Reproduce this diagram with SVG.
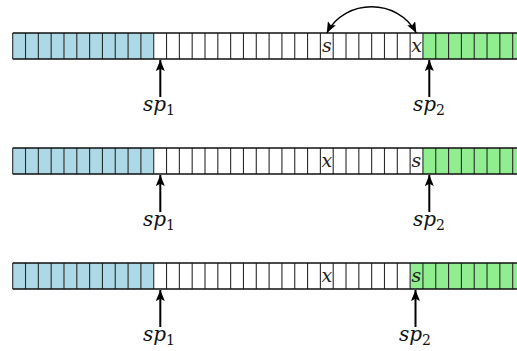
<svg xmlns="http://www.w3.org/2000/svg" xmlns:xlink="http://www.w3.org/1999/xlink" width="517" height="351" viewBox="0 0 517 351">
<style>
.blue{fill:#add8e6}
.white{fill:#ffffff}
.green{fill:#90ee90}
.div{fill:none;stroke:#2a2a2a;stroke-width:1.1}
.edge{fill:none;stroke:#111;stroke-width:1.6}
.cell{font-family:"DejaVu Serif","Liberation Serif",serif;font-style:italic;font-size:19px;fill:#222;text-anchor:middle}
.lbl{font-family:"DejaVu Serif","Liberation Serif",serif;font-style:italic;font-size:20px;fill:#111;text-anchor:middle}
.sub{font-style:normal;font-size:14px}
.ptr{fill:none;stroke:#000;stroke-width:2;marker-end:url(#head)}
.swap{fill:none;stroke:#000;stroke-width:1.4;marker-start:url(#head2);marker-end:url(#head2)}
</style>
<defs>
<marker id="head" viewBox="0 0 11 9" refX="11" refY="4.5" markerWidth="11" markerHeight="9" markerUnits="userSpaceOnUse" orient="auto">
<path d="M0,0 L11,4.5 L0,9 L2.2,4.5 z" fill="#000"/>
</marker>
<marker id="head2" viewBox="0 0 11 9" refX="11" refY="4.5" markerWidth="11" markerHeight="9" markerUnits="userSpaceOnUse" orient="auto-start-reverse">
<path d="M0,0 L11,4.5 L0,9 L2.2,4.5 z" fill="#000"/>
</marker>
<path id="dividers" class="div" d="M12.7 0V26M25.52 0V26M38.34 0V26M51.16 0V26M63.98 0V26M76.8 0V26M89.62 0V26M102.44 0V26M115.26 0V26M128.08 0V26M140.9 0V26M153.72 0V26M166.54 0V26M179.36 0V26M192.18 0V26M205 0V26M217.82 0V26M230.64 0V26M243.46 0V26M256.28 0V26M269.1 0V26M281.92 0V26M294.74 0V26M307.56 0V26M320.38 0V26M333.2 0V26M346.02 0V26M358.84 0V26M371.66 0V26M384.48 0V26M397.3 0V26M410.12 0V26M422.94 0V26M435.76 0V26M448.58 0V26M461.4 0V26M474.22 0V26M487.04 0V26M499.86 0V26M512.68 0V26"/>
<path id="edges" class="edge" d="M12.7 0H520M12.7 26H520"/>
</defs>

<g id="row1" transform="translate(0,33)">
<rect class="blue" x="12.7" y="0" width="141.02" height="26"/>
<rect class="white" x="153.72" y="0" width="269.22" height="26"/>
<rect class="green" x="422.94" y="0" width="100" height="26"/>
<use xlink:href="#dividers"/>
<use xlink:href="#edges"/>
<text class="cell" x="326.8" y="19">s</text>
<text class="cell" x="416.5" y="19">x</text>
</g>

<g id="row2" transform="translate(0,148)">
<rect class="blue" x="12.7" y="0" width="141.02" height="26"/>
<rect class="white" x="153.72" y="0" width="269.22" height="26"/>
<rect class="green" x="422.94" y="0" width="100" height="26"/>
<use xlink:href="#dividers"/>
<use xlink:href="#edges"/>
<text class="cell" x="326.8" y="19">x</text>
<text class="cell" x="416.5" y="19">s</text>
</g>

<g id="row3" transform="translate(0,263)">
<rect class="blue" x="12.7" y="0" width="141.02" height="26"/>
<rect class="white" x="153.72" y="0" width="256.4" height="26"/>
<rect class="green" x="410.12" y="0" width="110" height="26"/>
<use xlink:href="#dividers"/>
<use xlink:href="#edges"/>
<text class="cell" x="326.8" y="19">x</text>
<text class="cell" x="416.5" y="19">s</text>
</g>

<g id="labels">
<g id="sp1-row1"><text class="lbl" x="159" y="111">sp<tspan class="sub" dy="4">1</tspan></text></g>
<g id="sp2-row1"><text class="lbl" x="429" y="111">sp<tspan class="sub" dy="4">2</tspan></text></g>
<g id="sp1-row2"><text class="lbl" x="159" y="226">sp<tspan class="sub" dy="4">1</tspan></text></g>
<g id="sp2-row2"><text class="lbl" x="429" y="226">sp<tspan class="sub" dy="4">2</tspan></text></g>
<g id="sp1-row3"><text class="lbl" x="159" y="341">sp<tspan class="sub" dy="4">1</tspan></text></g>
<g id="sp2-row3"><text class="lbl" x="415" y="341">sp<tspan class="sub" dy="4">2</tspan></text></g>
</g>

<g id="connectors">
<path class="swap" d="M326.8 33 C345 -2, 398 -2, 416.3 33"/>
<line class="ptr" x1="160.3" y1="97" x2="160.3" y2="60"/>
<line class="ptr" x1="429.3" y1="97" x2="429.3" y2="60"/>
<line class="ptr" x1="160.3" y1="212" x2="160.3" y2="175"/>
<line class="ptr" x1="429.3" y1="212" x2="429.3" y2="175"/>
<line class="ptr" x1="160.3" y1="327" x2="160.3" y2="290"/>
<line class="ptr" x1="415.5" y1="327" x2="415.5" y2="290"/>
</g>
</svg>
